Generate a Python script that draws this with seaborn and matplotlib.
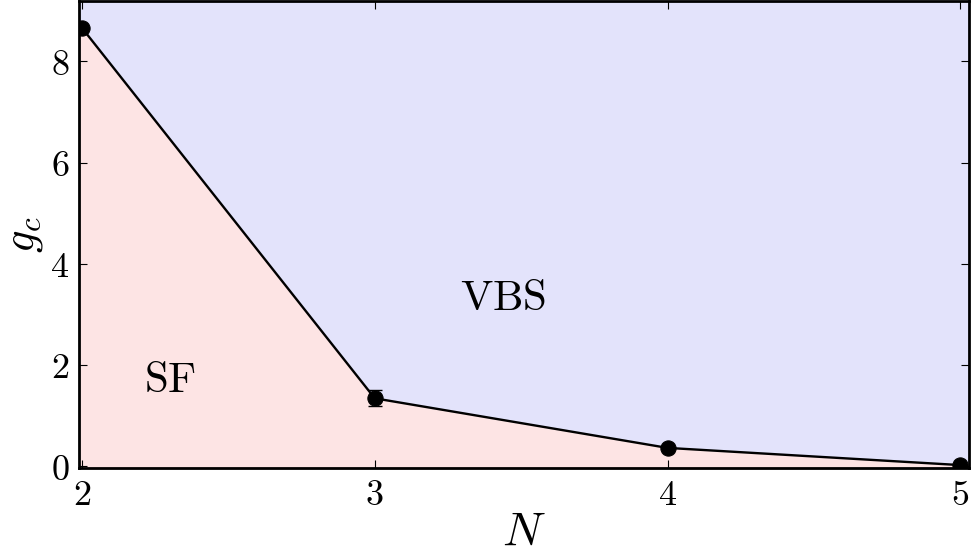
import matplotlib
matplotlib.use("Agg")
import matplotlib.pyplot as plt
import seaborn as sns
import pandas as pd
from matplotlib.ticker import FuncFormatter

# Critical coupling g_c versus N
N_values = [2, 3, 4, 5]
gc_values = [8.66, 1.34, 0.36, 0.02]
gc_errors = [0.0, 0.16, 0.0, 0.0]
x_ticks = [2, 3, 4, 5]
y_ticks = [0, 2, 4, 6, 8]
phase_labels = ["SF", "VBS"]

sns.set_style("ticks")
plt.rcParams["mathtext.fontset"] = "cm"
plt.rcParams["font.family"] = ["DejaVu Serif"]
for key in ["text.color", "axes.labelcolor", "xtick.color", "ytick.color",
            "axes.edgecolor"]:
    plt.rcParams[key] = "black"

df = pd.DataFrame({"N": N_values, "gc": gc_values})

fig = plt.figure(figsize=(9.71, 5.54), dpi=100)
ax = fig.add_axes([0.0814, 0.155, 0.9166, 0.843])

xmin, xmax = 1.99, 5.03
ymin, ymax = -0.04, 9.19

# phase regions, extended flat to the axes edges
xs = [xmin] + N_values + [xmax]
ys = [gc_values[0]] + gc_values + [gc_values[-1]]
ax.fill_between(xs, ymin, ys, color="#fde4e4", lw=0, zorder=0)
ax.fill_between(xs, ys, ymax, color="#e3e3fb", lw=0, zorder=0)

sns.lineplot(data=df, x="N", y="gc", ax=ax, color="black", lw=1.7,
             marker="o", markersize=11, markeredgecolor="black", zorder=3)
ax.errorbar(N_values, gc_values, yerr=gc_errors, fmt="none", ecolor="black",
            elinewidth=1.0, capsize=5, capthick=1.0, zorder=2)

ax.set_xlim(xmin, xmax)
ax.set_ylim(ymin, ymax)
ax.set_xticks(x_ticks)
ax.set_yticks(y_ticks)
fmt = FuncFormatter(lambda v, p: rf"${v:g}$")
ax.xaxis.set_major_formatter(fmt)
ax.yaxis.set_major_formatter(fmt)
ax.tick_params(direction="in", length=6, width=0.8, labelsize=26,
               top=True, right=True, pad=7)
for s in ax.spines.values():
    s.set_linewidth(2)

ax.set_xlabel(r"$N$", fontsize=34, labelpad=-2)
ax.set_ylabel(r"$g_c$", fontsize=32, labelpad=4)

ax.text(2.30, 1.70, rf"$\mathrm{{{phase_labels[0]}}}$", fontsize=31,
        ha="center", va="center")
ax.text(3.44, 3.32, rf"$\mathrm{{{phase_labels[1]}}}$", fontsize=31,
        ha="center", va="center")

fig.savefig("out.png", dpi=100)
